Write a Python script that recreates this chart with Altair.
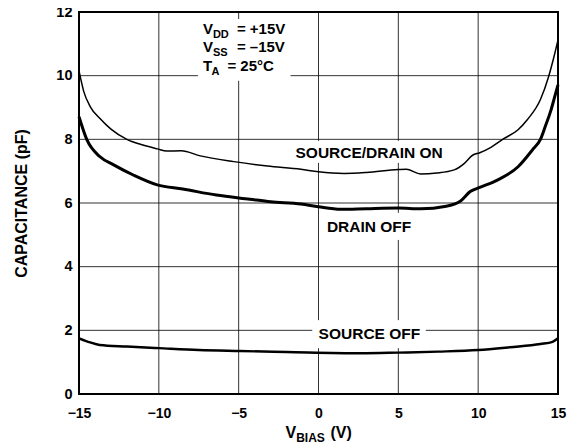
import altair as alt
import pandas as pd

# ---- data ----
v_on = [-15, -14.7, -14.3, -13.7, -13.0, -12.0, -11.0, -10.1, -9.5, -8.6, -7.4, -5.3, -3.2, -1.1,
        0.0, 1.6, 3.0, 5.0, 5.5, 6.4, 7.4, 8.5, 9.1, 9.65, 10.1, 10.8, 11.6, 12.5, 13.1, 13.9,
        14.4, 14.7, 15.0]
c_on = [10.15, 9.5, 9.03, 8.66, 8.32, 8.0, 7.82, 7.70, 7.63, 7.64, 7.48, 7.30, 7.16, 7.06,
        6.98, 6.93, 6.96, 7.05, 7.06, 6.91, 6.94, 7.04, 7.23, 7.50, 7.58, 7.75, 8.02, 8.30, 8.63, 9.25,
        9.95, 10.5, 11.12]

v_doff = [-15, -14.5, -13.7, -12.8, -11.6, -10.1, -8.5, -6.4, -4.3, -3.0, -1.1, 0.0, 1.4, 3.0, 5.0,
          6.4, 8.0, 8.9, 9.5, 10.1, 11.2, 12.5, 13.4, 13.9, 14.2, 14.55, 14.8, 15.0]
c_doff = [8.71, 7.98, 7.46, 7.19, 6.88, 6.57, 6.44, 6.25, 6.12, 6.04, 5.97, 5.88, 5.80, 5.82, 5.84,
          5.82, 5.90, 6.06, 6.36, 6.49, 6.72, 7.14, 7.67, 8.0, 8.4, 8.9, 9.35, 9.71]

v_soff = [-15, -14.3, -13.7, -12.0, -10.0, -7.5, -4.9, -2.0, 2.65, 5.0, 7.5, 10.0, 12.0, 13.9, 14.66, 15.0]
c_soff = [1.75, 1.62, 1.54, 1.49, 1.44, 1.38, 1.35, 1.32, 1.28, 1.30, 1.33, 1.38, 1.47, 1.57, 1.64, 1.75]

x_ticks = [-15, -10, -5, 0, 5, 10, 15]
y_ticks = [0, 2, 4, 6, 8, 10, 12]

# curve labels (text, x, y baseline in data units)
curve_labels = ["SOURCE/DRAIN ON", "DRAIN OFF", "SOURCE OFF"]
curve_label_x = [3.17, 3.17, 3.19]
curve_label_y = [7.40, 5.09, 1.73]

# gaps in the grid around the labels (data units)
box_x0 = [-7.55, -1.75, 0.25, -0.39]
box_x1 = [-1.75, 8.04, 6.10, 6.72]
box_y0 = [9.84, 7.26, 4.84, 1.44]
box_y1 = [11.78, 7.95, 5.69, 2.32]

# condition block
cond_main = ["V", "V", "T"]
cond_sub = ["DD", "SS", "A"]
cond_rest = ["= +15V", "= \u201315V", "= 25\u00b0C"]
cond_y = [11.31, 10.74, 10.14]
cond_x = -7.24

FONT = "Liberation Sans"

x_scale = alt.Scale(domain=[x_ticks[0], x_ticks[-1]], nice=False, zero=False)
y_scale = alt.Scale(domain=[y_ticks[0], y_ticks[-1]], nice=False, zero=False)

x_axis = alt.Axis(values=x_ticks, title=None, grid=False, tickSize=0, labelPadding=12,
                  labelFont=FONT, labelFontSize=14, labelFontWeight="bold", labelColor="black",
                  labelFlush=False, labelOverlap=False, domain=False)
y_axis = alt.Axis(values=y_ticks, title="CAPACITANCE (pF)", grid=False, tickSize=0, labelPadding=7,
                  labelFont=FONT, labelFontSize=14.5, labelFontWeight="bold", labelColor="black",
                  labelFlush=False, labelOverlap=False, domain=False,
                  titleFont=FONT, titleFontSize=16, titleFontWeight="bold", titleColor="black",
                  titleX=-52.5, titleY=191, titleBaseline="alphabetic", titleAngle=270)


def X(field):
    return alt.X(field, type="quantitative", scale=x_scale, axis=x_axis)


def Y(field):
    return alt.Y(field, type="quantitative", scale=y_scale, axis=y_axis)


def subtract(lo, hi, cuts):
    segs = [(lo, hi)]
    for a, b in cuts:
        new = []
        for s, e in segs:
            if b <= s or a >= e:
                new.append((s, e))
                continue
            if a > s:
                new.append((s, a))
            if b < e:
                new.append((b, e))
        segs = new
    return segs


# grid segments (from the tick lists, with gaps where the labels sit)
boxes = list(zip(box_x0, box_x1, box_y0, box_y1))
grid_rows = []
seg_id = 0
for g in x_ticks[1:-1]:
    cuts = [(y0, y1) for (x0, x1, y0, y1) in boxes if x0 < g < x1]
    for s, e in subtract(y_ticks[0], y_ticks[-1], cuts):
        grid_rows.append({"gx": g, "gy": s, "seg": "s%d" % seg_id, "k": 0})
        grid_rows.append({"gx": g, "gy": e, "seg": "s%d" % seg_id, "k": 1})
        seg_id += 1
for g in y_ticks[1:-1]:
    cuts = [(x0, x1) for (x0, x1, y0, y1) in boxes if y0 < g < y1]
    for s, e in subtract(x_ticks[0], x_ticks[-1], cuts):
        grid_rows.append({"gx": s, "gy": g, "seg": "s%d" % seg_id, "k": 0})
        grid_rows.append({"gx": e, "gy": g, "seg": "s%d" % seg_id, "k": 1})
        seg_id += 1
df_grid = pd.DataFrame(grid_rows)

grid = alt.Chart(df_grid).mark_line(color="black", strokeWidth=1, opacity=0.8,
                                    interpolate="linear").encode(
    x=X("gx"), y=Y("gy"), detail=alt.Detail("seg", type="nominal"),
    order=alt.Order("k", type="quantitative"))

df_on = pd.DataFrame({"v": v_on, "c": c_on})
df_doff = pd.DataFrame({"v": v_doff, "c": c_doff})
df_soff = pd.DataFrame({"v": v_soff, "c": c_soff})
df_lab = pd.DataFrame({"t": curve_labels, "x": curve_label_x, "y": curve_label_y})
df_cond = pd.DataFrame({"m": cond_main, "s": cond_sub, "r": cond_rest, "y": cond_y,
                        "x": [cond_x] * 3})

line_on = alt.Chart(df_on).mark_line(color="black", strokeWidth=1.5, interpolate="monotone").encode(
    x=X("v"), y=Y("c"))
line_doff = alt.Chart(df_doff).mark_line(color="black", strokeWidth=3, interpolate="monotone").encode(
    x=X("v"), y=Y("c"))
line_soff = alt.Chart(df_soff).mark_line(color="black", strokeWidth=2.4, interpolate="monotone").encode(
    x=X("v"), y=Y("c"))

labels = alt.Chart(df_lab).mark_text(font=FONT, fontSize=15.5, fontWeight="bold", color="black",
                                     align="center", baseline="alphabetic").encode(
    x=X("x"), y=Y("y"), text="t")

df_cond_v = df_cond.iloc[:2].reset_index(drop=True)
df_cond_t = df_cond.iloc[2:].reset_index(drop=True)
cond_m = alt.Chart(df_cond).mark_text(font=FONT, fontSize=15, fontWeight="bold", color="black",
                                      align="left", baseline="alphabetic").encode(
    x=X("x"), y=Y("y"), text="m")
cond_s1 = alt.Chart(df_cond_v).mark_text(font=FONT, fontSize=11, fontWeight="bold", color="black",
                                         align="left", baseline="alphabetic", dx=10, dy=4).encode(
    x=X("x"), y=Y("y"), text="s")
cond_s2 = alt.Chart(df_cond_t).mark_text(font=FONT, fontSize=11, fontWeight="bold", color="black",
                                         align="left", baseline="alphabetic", dx=8.5, dy=4).encode(
    x=X("x"), y=Y("y"), text="s")
cond_r1 = alt.Chart(df_cond_v).mark_text(font=FONT, fontSize=15, fontWeight="bold", color="black",
                                         align="left", baseline="alphabetic", dx=34).encode(
    x=X("x"), y=Y("y"), text="r")
cond_r2 = alt.Chart(df_cond_t).mark_text(font=FONT, fontSize=15, fontWeight="bold", color="black",
                                         align="left", baseline="alphabetic", dx=24.5).encode(
    x=X("x"), y=Y("y"), text="r")

# x-axis title with subscript, placed below the plot in data units
df_xt = pd.DataFrame({"x": [-2.07], "y": [-1.39], "m": ["V"], "s": ["BIAS"], "r": ["(V)"]})
xt_m = alt.Chart(df_xt).mark_text(font=FONT, fontSize=16, fontWeight="bold", color="black",
                                  align="left", baseline="alphabetic").encode(
    x=X("x"), y=Y("y"), text="m")
xt_s = alt.Chart(df_xt).mark_text(font=FONT, fontSize=12, fontWeight="bold", color="black",
                                  align="left", baseline="alphabetic", dx=10.7, dy=3.5).encode(
    x=X("x"), y=Y("y"), text="s")
xt_r = alt.Chart(df_xt).mark_text(font=FONT, fontSize=16, fontWeight="bold", color="black",
                                  align="left", baseline="alphabetic", dx=45).encode(
    x=X("x"), y=Y("y"), text="r")

chart = alt.layer(
    grid, line_soff, line_doff, line_on, labels,
    cond_m, cond_s1, cond_s2, cond_r1, cond_r2, xt_m, xt_s, xt_r
).properties(
    width=479, height=382, autosize="none",
    padding={"left": 71, "top": 4, "right": 10, "bottom": 54},
    background="white",
).configure_view(stroke="black", strokeWidth=2)

chart.save("out.html", embed_options={"renderer": "svg", "actions": False})
